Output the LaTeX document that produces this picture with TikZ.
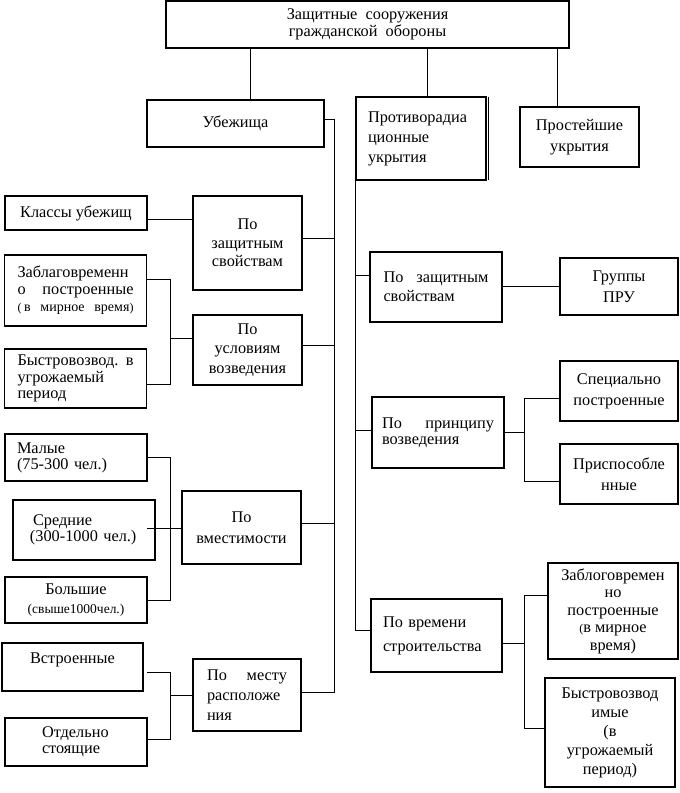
\documentclass[tikz,border=0pt]{standalone}
\usepackage{fontspec}
\setmainfont{Liberation Serif}
\newcommand\fs{\fontsize{16.3}{18.5}\selectfont}
\newcommand\fsm{\fontsize{14}{15}\selectfont}
\newcommand\fsn[1]{\fontsize{16.3}{#1}\selectfont}
\begin{document}
\begin{tikzpicture}[x=1pt,y=-1pt,
  box/.style={draw,line width=1.1pt,inner sep=0pt,outer sep=0pt,font=\fs},
  ln/.style={line width=1pt}]
\useasboundingbox (0,0) rectangle (680,793);
\fill[white] (0,0) rectangle (680,793);
% top
\node[box,minimum width=403pt,minimum height=47pt,align=center,font=\fsn{17}] (top) at (367.5,24.5) {Защитные\ \ сооружения\\гражданской\ \ обороны};
\node[box,minimum width=177pt,minimum height=47pt] (ub) at (235.5,123.5) {Убежища};
\node[box,minimum width=130pt,minimum height=83pt,align=left,text width=106pt,font=\fsn{20}] (pr) at (421,138.5) {Противорадиа\\ционные\\укрытия};
\node[box,minimum width=119pt,minimum height=60pt,align=center,font=\fsn{21}] (pp) at (579.5,137) {Простейшие\\укрытия};
% left column
\node[box,minimum width=142pt,minimum height=34pt] (kl) at (76,213) {Классы убежищ};
\node[box,minimum width=109pt,minimum height=94pt,align=center] (pz) at (247.5,243) {По\\защитным\\свойствам};
\node[box,minimum width=142pt,minimum height=71pt,align=left,text width=116pt,font=\fsn{17}] (zb) at (75.5,290.5) {Заблаговременн\\о\hfill построенные\\{\large(}\,{\fsm в\hfill мирное\hfill время}{\large)}};
\node[box,minimum width=142pt,minimum height=59pt,align=left,text width=116pt,font=\fsn{16.5}] (bv) at (75.5,378.5) {Быстровозвод.\hfill в\\угрожаемый\\период};
\node[box,minimum width=109pt,minimum height=70pt,align=center,font=\fsn{19.5}] (pu) at (247.5,350) {По\\условиям\\возведения};
\node[box,minimum width=142pt,minimum height=47pt,align=left,text width=118pt,font=\fsn{16}] (ma) at (76,457.5) {Малые\\(75-300 чел.)};
\node[box,minimum width=142pt,minimum height=60pt,align=left,text width=108pt,font=\fsn{16}] (sr) at (84,530) {\hspace{3pt}Средние\\(300-1000 чел.)};
\node[box,minimum width=142pt,minimum height=46pt,align=center,font=\fsn{19}] (bo) at (76,600) {Большие\\{\fontsize{13.5}{14}\selectfont(свыше1000чел.)}};
\node[box,minimum width=119pt,minimum height=73pt,align=center,font=\fsn{21}] (pv) at (241.5,527.5) {По\\вместимости};
\node[box,minimum width=141pt,minimum height=48pt,align=center] (vs) at (72.5,667) {Встроенные\\\mbox{}};
\node[box,minimum width=142pt,minimum height=48pt,align=left,text width=68pt,font=\fsn{16}] (ot) at (76,742) {Отдельно\\стоящие};
\node[box,minimum width=108pt,minimum height=72pt,align=left,text width=80pt,font=\fsn{20}] (pm) at (247,695) {По\hfill месту\\расположе\\ния};
% right column
\node[box,minimum width=132pt,minimum height=70pt,align=left,text width=105pt,font=\fsn{19}] (pzr) at (436,287) {По\hfill защитным\\свойствам};
\node[box,minimum width=118pt,minimum height=57pt,align=center,font=\fsn{21}] (gr) at (619,286.5) {Группы\\ПРУ};
\node[box,minimum width=132pt,minimum height=71pt,align=left,text width=112pt,font=\fsn{16}] (ppr) at (438,432.5) {По\hfill принципу\\возведения};
\node[box,minimum width=118pt,minimum height=60pt,align=center,font=\fsn{21}] (sp) at (619,391) {Специально\\построенные};
\node[box,minimum width=118pt,minimum height=60pt,align=center,font=\fsn{21}] (pri) at (619,474) {Приспособле\\нные};
\node[box,minimum width=131pt,minimum height=73pt,align=left,text width=107pt,font=\fsn{24}] (pvr) at (436.5,635.5) {По времени\\строительства};
\node[box,minimum width=130pt,minimum height=96pt,align=center,font=\fsn{17.5}] (zr) at (613,611) {Заблоговремен\\но\\построенные\\{\large(}в мирное\\время)};
\node[box,minimum width=130pt,minimum height=109pt,align=center,font=\fsn{19}] (br) at (610,732.5) {Быстровозвод\\имые\\(в\\угрожаемый\\период)};
% double right edge
\draw[line width=1pt] ([xshift=2.5pt]pr.north east) -- ([xshift=2.5pt]pr.south east);
% junction coordinates
\coordinate (LB) at (334,0);
\coordinate (RB) at (355,0);
\coordinate (JL) at (170,0);
\coordinate (JR) at (524,0);
\coordinate (X250) at (250,0);
\coordinate (X427) at (427,0);
\coordinate (X557) at (557,0);
% top links
\draw[ln] (top.south -| X250) -- (ub.north -| X250);
\draw[ln] (top.south -| X427) -- (pr.north -| X427);
\draw[ln] (top.south -| X557) -- (pp.north -| X557);
% left bus
\draw[ln] ([yshift=4.5pt]ub.east) -| ([yshift=3pt]pm.east -| LB) -- ([yshift=3pt]pm.east);
\draw[ln] ([yshift=5pt]pz.east) -- ([yshift=5pt]pz.east -| LB);
\draw[ln] ([yshift=5pt]pu.east) -- ([yshift=5pt]pu.east -| LB);
\draw[ln] ([yshift=4.5pt]pv.east) -- ([yshift=4.5pt]pv.east -| LB);
% left leaves
\draw[ln] ([yshift=-6pt]kl.east) -- ([yshift=-6pt]kl.east -| pz.west);
\draw[ln] ([yshift=11.5pt]zb.east) -| ([yshift=-5.5pt]bv.east -| JL) -- ([yshift=-5.5pt]bv.east);
\draw[ln] ([yshift=12pt]pu.west) -- ([yshift=12pt]pu.west -| JL);
\draw[ln] (ma.east) -| (bo.east -| JL) -- (bo.east);
\draw[ln] ([xshift=-8pt,yshift=2pt]sr.east) -- ([yshift=2pt]sr.east -| pv.west);
\draw[ln] ([xshift=4pt,yshift=-5pt]vs.east) -| ([yshift=3pt]ot.east -| JL) -- ([yshift=3pt]ot.east);
\draw[ln] (pm.west) -- (pm.west -| JL);
% right bus
\draw[ln] (pr.south -| RB) -- ([yshift=5.5pt]pvr.west -| RB) -- ([yshift=5.5pt]pvr.west);
\draw[ln] ([yshift=12pt]pzr.west) -- ([yshift=12pt]pzr.west -| RB);
\draw[ln] ([yshift=2.5pt]ppr.west) -- ([yshift=2.5pt]ppr.west -| RB);
% right leaves
\draw[ln] (gr.west) -- (gr.west -| pzr.east);
\draw[ln] (ppr.east) -- (ppr.east -| JR);
\draw[ln] ([yshift=-7pt]sp.west) -| ([yshift=-7pt]pri.west -| JR) -- ([yshift=-7pt]pri.west);
\draw[ln] ([yshift=-7.5pt]pvr.east) -- ([yshift=-7.5pt]pvr.east -| JR);
\draw[ln] ([yshift=16pt]zr.west) -| ([yshift=4.5pt]br.west -| JR) -- ([yshift=4.5pt]br.west);
\end{tikzpicture}
\end{document}
